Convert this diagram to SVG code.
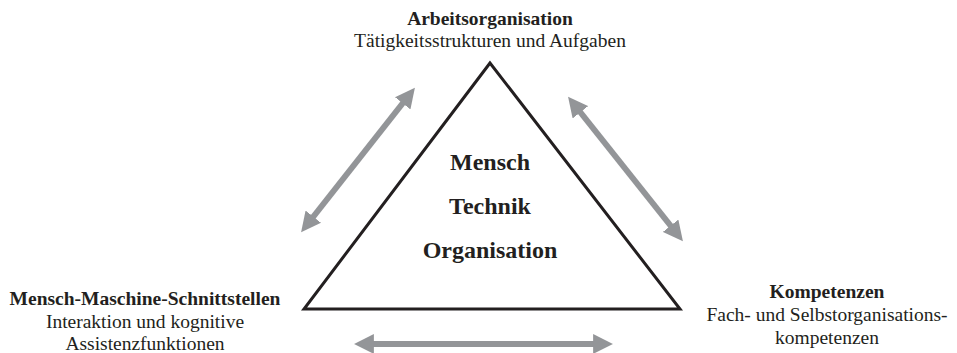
<svg xmlns="http://www.w3.org/2000/svg" width="957" height="353" viewBox="0 0 957 353">
  <style>
    .lbl { font-family: "Liberation Serif", "Times New Roman", serif; font-size: 19.5px; fill: #231f20; text-anchor: middle; }
    .b { font-weight: bold; }
    .core { font-family: "Liberation Serif", "Times New Roman", serif; font-size: 24px; font-weight: bold; fill: #231f20; text-anchor: middle; }
    .arrow { stroke: #939598; stroke-width: 6; fill: none; marker-start: url(#head); marker-end: url(#head); }
  </style>
  <defs>
    <marker id="head" viewBox="0 0 10 10" refX="6" refY="5" markerWidth="3.3" markerHeight="3.3" orient="auto-start-reverse" markerUnits="strokeWidth">
      <path d="M0,0 L10,5 L0,10 z" fill="#939598"/>
    </marker>
  </defs>

  <g id="triangle">
    <polygon points="490,63 304,309 680,309" fill="#fff" stroke="#231f20" stroke-width="3" stroke-linejoin="miter"/>
    <text class="core" x="490" y="170">Mensch</text>
    <text class="core" x="490" y="214">Technik</text>
    <text class="core" x="490" y="258">Organisation</text>
  </g>

  <g id="arbeitsorganisation">
    <text class="lbl b" x="490" y="25">Arbeitsorganisation</text>
    <text class="lbl" x="490" y="47">Tätigkeitsstrukturen und Aufgaben</text>
  </g>

  <g id="mms">
    <text class="lbl b" x="145" y="305">Mensch-Maschine-Schnittstellen</text>
    <text class="lbl" x="145" y="328">Interaktion und kognitive</text>
    <text class="lbl" x="145" y="350">Assistenzfunktionen</text>
  </g>

  <g id="kompetenzen">
    <text class="lbl b" x="827" y="298">Kompetenzen</text>
    <text class="lbl" x="827" y="321">Fach- und Selbstorganisations-</text>
    <text class="lbl" x="827" y="344">kompetenzen</text>
  </g>

  <g id="connectors">
    <line class="arrow" x1="306" y1="226" x2="410" y2="94"/>
    <line class="arrow" x1="573" y1="103" x2="678" y2="235"/>
    <line class="arrow" x1="362" y1="344" x2="605" y2="344"/>
  </g>
</svg>
